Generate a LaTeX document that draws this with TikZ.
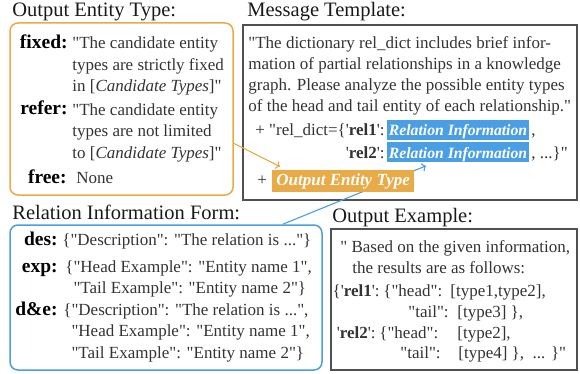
\documentclass[tikz,border=0pt]{standalone}
\usepackage{fontspec}
\setmainfont{Liberation Serif}
\usetikzlibrary{arrows.meta}

\definecolor{boxorange}{HTML}{E9AA48}
\definecolor{boxblue}{HTML}{4A9EE3}
\definecolor{framegray}{HTML}{505050}
\definecolor{txtgray}{HTML}{333333}

\newcommand{\dq}{\textquotedbl}
\newcommand{\sqt}{\textquotesingle}

\tikzset{
  every picture/.style={line width=0.75pt},
  title/.style={anchor=base west, inner sep=0pt, text=black!90, font=\fontsize{20.5}{24}\selectfont},
  body/.style={anchor=base west, inner sep=0pt, text=txtgray, font=\fontsize{17}{21.5}\selectfont},
  key/.style={anchor=base east, inner sep=0pt, text=black, font=\fontsize{19.5}{21.5}\selectfont\bfseries},
  reltag/.style={anchor=base west, fill=boxblue, text=white, inner xsep=1.5pt, inner ysep=0pt,
    text height=15.5pt, text depth=4.5pt, font=\fontsize{15.7}{18}\selectfont\bfseries\itshape},
  outtag/.style={anchor=base west, fill=boxorange, text=white, inner xsep=4pt, inner ysep=0pt,
    text height=15pt, text depth=7pt, font=\fontsize{17}{20}\selectfont\bfseries\itshape},
  oframe/.style={draw=boxorange, line width=1.5pt, rounded corners=8pt, inner sep=0pt},
  bframe/.style={draw=boxblue, line width=1.5pt, rounded corners=8pt, inner sep=0pt},
  gframe/.style={draw=framegray, line width=1.5pt, inner sep=0pt},
}

\begin{document}
\begin{tikzpicture}[x=1pt,y=-1pt]
		\useasboundingbox (0,0) rectangle (580,374);
		% frames
		\node[oframe, minimum width=223pt, minimum height=172pt] (typeframe) at (121.5,109) {};
		\node[gframe, minimum width=334pt, minimum height=175pt] (msgframe) at (410,112.5) {};
		\node[bframe, minimum width=312pt, minimum height=145pt] (relframe) at (166,297.5) {};
		\node[gframe, minimum width=246pt, minimum height=141pt] (exframe) at (454,299.5) {};
		% titles
		\node[title] (typetitle) at (12,17) {Output Entity Type:};
		\node[title] (msgtitle) at (247,17) {Message Template:};
		\node[title] (reltitle) at (12,219) {Relation Information Form:};
		\node[title] (extitle) at (332,222) {Output Example:};
		% output entity type (multi-line nodes sit on their last line)
		\node[key] (kfixed) at (68,49) {fixed:};
		\node[body, align=left] (tfixed) at (72,92) {\dq The candidate entity\\types are strictly fixed\\in [\textit{Candidate Types}]\dq};
		\node[key] (krefer) at (68,115) {refer:};
		\node[body, align=left] (trefer) at (72,158) {\dq The candidate entity\\types are not limited\\to [\textit{Candidate Types}]\dq};
		\node[key] (kfree) at (67,183) {free:};
		\node[body] (tfree) at (76,183) {None};
		% message template
		\node[body, align=left, font=\fontsize{17}{21}\selectfont] (msgtext) at (248,112) {\dq The dictionary rel\_dict includes brief infor-\\mation of partial relationships in a knowledge\\graph. Please analyze the possible entity types\\of the head and tail entity of each relationship.\dq};
		\node[body, anchor=base east] (relone) at (385,136) {+ \dq rel\_dict=\{\sqt\textbf{rel1}\sqt:};
		\node[reltag] (reltaga) at (387,136) {Relation Information};
		\node[body] (commaa) at ([xshift=2pt]reltaga.base east) {,};
		\node[body, anchor=base east] (reltwo) at (385,158) {\sqt\textbf{rel2}\sqt:};
		\node[reltag] (reltagb) at (387,158) {Relation Information};
		\node[body] (commab) at ([xshift=2pt]reltagb.base east) {, ...\}\dq};
		% blue connector runs behind the orange tag
		\draw[boxblue, line width=1.1pt, ->] ([xshift=-40pt]relframe.north east) -- ([xshift=-32pt,yshift=-3pt]reltagb.south);
		\node[body] (plusb) at (257,185) {+};
		\node[outtag] (outtag) at (272,185) {Output Entity Type};
		\draw[boxorange, line width=1.1pt, ->] (typeframe.-17) -- ([xshift=8pt,yshift=3pt]outtag.north west);
		% relation information form
		\node[key] (kdes) at (58,245) {des:};
		\node[body] (tdes) at (62,245) {\{\dq Description\dq: \dq The relation is ...\dq\}};
		\node[key] (kexp) at (58,272) {exp:};
		\node[body, align=left] (texp) at (65,293.5) {\{\dq Head Example\dq: \dq Entity name 1\dq,\\\phantom{\{}\dq Tail Example\dq: \dq Entity name 2\dq\}};
		\node[key] (kde) at (58,315) {d\&e:};
		\node[body, align=left] (tde) at (63,358) {\{\dq Description\dq: \dq The relation is ...\dq,\\\phantom{\{}\dq Head Example\dq: \dq Entity name 1\dq,\\\phantom{\{}\dq Tail Example\dq: \dq Entity name 2\dq\}};
		% output example
		\node[body] (exa) at (340,252) {\dq\ Based on the given information,};
		\node[body] (exb) at (352,273) {the results are as follows:};
		\node[body, anchor=base east] (exc) at (380,296) {\{\sqt\textbf{rel1}\sqt:};
		\node[body] (exc2) at (383,296) {\{\dq head\dq:};
		\node[body] (exc3) at (450,296) {[type1,type2],};
		\node[body] (exd) at (408,317) {\dq tail\dq:};
		\node[body] (exd2) at (457,317) {[type3] \},};
		\node[body, anchor=base east] (exe) at (376,338) {\sqt\textbf{rel2}\sqt:};
		\node[body] (exe2) at (379,338) {\{\dq head\dq:};
		\node[body] (exe3) at (457,338) {[type2],};
		\node[body] (exf) at (400,358) {\dq tail\dq:};
		\node[body] (exf2) at (458,358) {[type4] \},\ \ ... \}\dq};
	\end{tikzpicture}
\end{document}
